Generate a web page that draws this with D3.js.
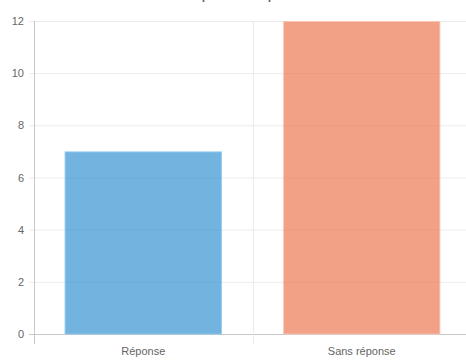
<!DOCTYPE html>
<html lang="fr">
<head>
    <meta charset="UTF-8">
    <title>Réponses</title>
    <style>
        body,
        html {
            margin: 0;
            padding: 0;
            background: #fff;
            overflow: hidden;
        }
        text {
            font-family: "Liberation Sans", Arial, sans-serif;
        }
    </style>
    <script src="https://d3js.org/d3.v7.min.js"></script>
</head>
<body>
<div id="chart"></div>
<script>
    const categories = ['Réponse', 'Sans réponse'];
    const values = [7, 12];
    const fills = ['rgba(54,148,209,0.7)', 'rgba(235,110,70,0.65)'];
    const borders = ['rgba(140,200,240,0.9)', 'rgba(250,200,180,0.9)'];
    const yTicks = [0, 2, 4, 6, 8, 10, 12];

    (function () {
        let width = 466,
            height = 360;

        let svg = d3.select('#chart').append('svg')
            .attr('width', width).attr('height', height);

        let x = d3.scaleBand()
            .domain(categories)
            .range([34, 471])
            .paddingInner(0).paddingOuter(0);

        let y = d3.scaleLinear()
            .domain([0, 12])
            .range([334, 21]);

        // title, mostly above the visible area (only descenders show)
        svg.append('text')
            .attr('x', 250).attr('y', -1)
            .attr('text-anchor', 'middle')
            .style('font-size', '12px')
            .style('font-weight', 'bold')
            .attr('fill', '#666')
            .text('Réponse à la question');

        // horizontal grid
        svg.append('g')
            .selectAll('line')
            .data(yTicks)
            .enter().append('line')
            .attr('x1', 29).attr('x2', width)
            .attr('y1', d => y(d) + 0.5).attr('y2', d => y(d) + 0.5)
            .attr('stroke', d => d === 0 ? '#c8c8c8' : '#ebebeb')
            .attr('stroke-width', 1);

        // vertical grid at category boundaries
        let bounds = [x(categories[0]), x(categories[1])];
        svg.append('g')
            .selectAll('line')
            .data(bounds)
            .enter().append('line')
            .attr('x1', d => Math.round(d) + 0.5).attr('x2', d => Math.round(d) + 0.5)
            .attr('y1', 21).attr('y2', 344)
            .attr('stroke', (d, i) => i === 0 ? '#c8c8c8' : '#ebebeb')
            .attr('stroke-width', 1);

        // bars
        let barW = x.bandwidth() * 0.72;
        svg.append('g')
            .selectAll('rect')
            .data(values)
            .enter().append('rect')
            .attr('x', (d, i) => x(categories[i]) + (x.bandwidth() - barW) / 2 + 0.5)
            .attr('y', d => y(d) + 0.5)
            .attr('width', barW - 1)
            .attr('height', d => y(0) - y(d) - 0.5)
            .attr('fill', (d, i) => fills[i])
            .attr('stroke', (d, i) => borders[i])
            .attr('stroke-width', 1);

        // y tick labels
        svg.append('g')
            .selectAll('text')
            .data(yTicks)
            .enter().append('text')
            .attr('x', 24)
            .attr('y', d => y(d) + 4)
            .attr('text-anchor', 'end')
            .style('font-size', '11px')
            .attr('fill', '#666')
            .text(d => d);

        // x labels
        svg.append('g')
            .selectAll('text')
            .data(categories)
            .enter().append('text')
            .attr('x', d => x(d) + x.bandwidth() / 2)
            .attr('y', 355)
            .attr('text-anchor', 'middle')
            .style('font-size', '11px')
            .attr('fill', '#666')
            .text(d => d);
    }());
</script>
</body>
</html>
